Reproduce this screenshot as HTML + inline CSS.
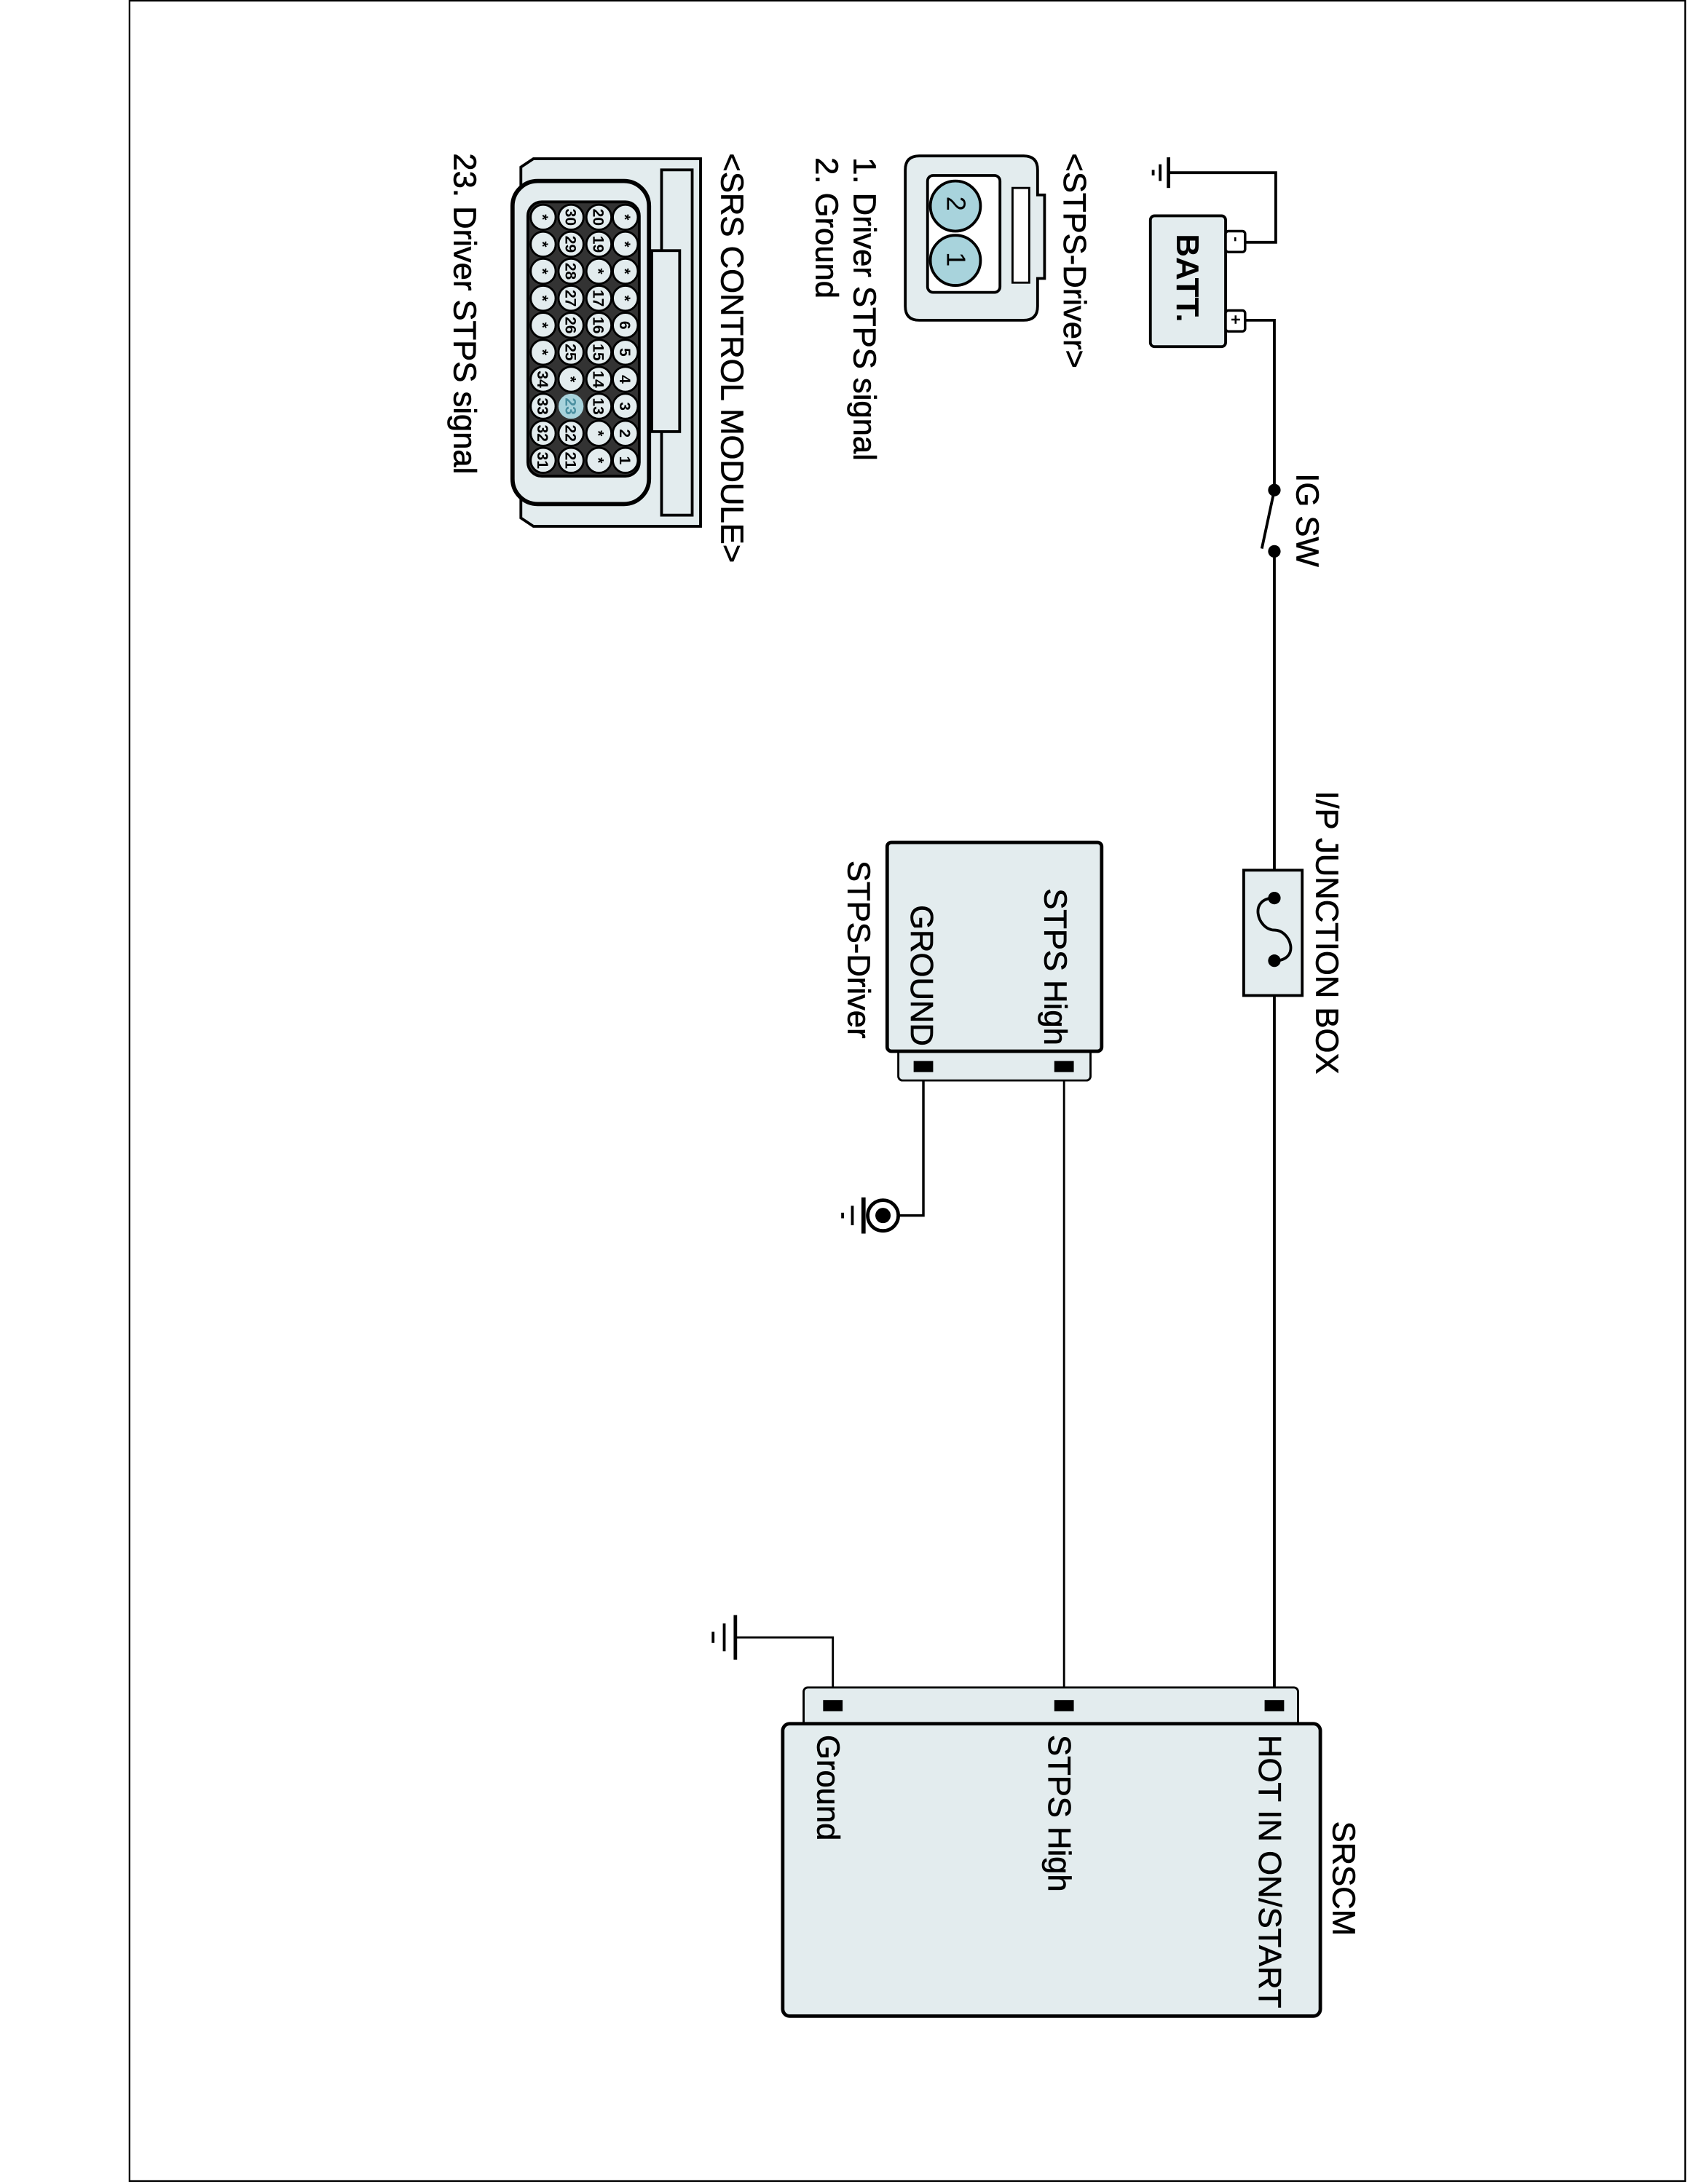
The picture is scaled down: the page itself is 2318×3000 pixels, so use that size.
<!DOCTYPE html>
<html><head><meta charset="utf-8"><style>html,body{margin:0;padding:0;background:#fff}svg{display:block}.t{font-size:22.8px;stroke:#000;stroke-width:0.35}</style></head>
<body>
<svg width="2318" height="3000" viewBox="0 0 1212 1568.6" preserveAspectRatio="none" xmlns="http://www.w3.org/2000/svg" font-family="Liberation Sans, sans-serif">
<rect x="93" y="0.5" width="1117" height="1566" fill="none" stroke="#000" stroke-width="1.2"/>
<g stroke="#000" fill="none" stroke-width="2">
<polyline points="894,174 916,174 916,124 839,124"/>
<line x1="839" y1="113" x2="839" y2="135" stroke-width="2.5"/>
<line x1="833" y1="118" x2="833" y2="130"/>
<line x1="828" y1="122" x2="828" y2="126"/>
<polyline points="894,230 915,230 915,352"/>
<line x1="915" y1="352" x2="906" y2="394"/>
<line x1="915" y1="396" x2="915" y2="645"/>
<line x1="915" y1="690" x2="915" y2="1225"/>
<line x1="764" y1="766" x2="764" y2="1225" stroke-width="1.5"/>
<polyline points="663,766 663,873 645,873" stroke-width="1.8"/>
<polyline points="598,1225 598,1176 528,1176" stroke-width="1.5"/>
<line x1="528" y1="1160" x2="528" y2="1192" stroke-width="2.5"/>
<line x1="520" y1="1166" x2="520" y2="1186"/>
<line x1="512" y1="1172" x2="512" y2="1180"/>
</g>
<rect x="826" y="155" width="54" height="94" rx="3" fill="#e3ecee" stroke="#000" stroke-width="2"/>
<rect x="880" y="166" width="14" height="15" rx="2" fill="#fff" stroke="#000" stroke-width="1.8"/>
<rect x="880" y="223" width="14" height="15" rx="2" fill="#fff" stroke="#000" stroke-width="1.8"/>
<text transform="translate(884,170) rotate(90)" font-size="11" font-weight="bold">-</text>
<text transform="translate(883,226) rotate(90)" font-size="12" font-weight="bold">+</text>
<text transform="translate(845,168) rotate(90)" font-size="23" font-weight="bold">BATT.</text>
<circle cx="915" cy="352" r="4.5"/><circle cx="915" cy="396" r="4.5"/>
<text class="t" transform="translate(931,340) rotate(90)">IG SW</text>
<rect x="893" y="625" width="42" height="90" fill="#e3ecee" stroke="#000" stroke-width="2"/>
<path d="M915,645 C896,645 903,668 915,668 C927,668 934,690 915,690" fill="none" stroke="#000" stroke-width="2"/>
<circle cx="915" cy="645" r="4.5"/><circle cx="915" cy="690" r="4.5"/>
<text class="t" transform="translate(945,568) rotate(90)">I/P JUNCTION BOX</text>
<rect x="645" y="752" width="138" height="24" rx="3" fill="#e3ecee" stroke="#000" stroke-width="1.5"/>
<rect x="637" y="605" width="154" height="150" rx="3" fill="#e3ecee" stroke="#000" stroke-width="2.5"/>
<rect x="757" y="762" width="14" height="8" fill="#000"/>
<rect x="656" y="762" width="14" height="8" fill="#000"/>
<text class="t" transform="translate(750,638) rotate(90)">STPS High</text>
<text class="t" transform="translate(654,650) rotate(90)">GROUND</text>
<text class="t" transform="translate(609,618) rotate(90)">STPS-Driver</text>
<circle cx="634" cy="873" r="11" fill="#fff" stroke="#000" stroke-width="2.5"/>
<circle cx="634" cy="873" r="5.5" fill="#000"/>
<line x1="620" y1="860" x2="620" y2="886" stroke="#000" stroke-width="3"/>
<line x1="612" y1="866" x2="612" y2="880" stroke="#000" stroke-width="2"/>
<line x1="605" y1="871" x2="605" y2="875" stroke="#000" stroke-width="2"/>
<rect x="577" y="1212" width="355" height="30" rx="3" fill="#e3ecee" stroke="#000" stroke-width="1.5"/>
<rect x="562" y="1238" width="386" height="210" rx="5" fill="#e3ecee" stroke="#000" stroke-width="2.5"/>
<rect x="908" y="1221" width="14" height="8" fill="#000"/>
<rect x="757" y="1221" width="14" height="8" fill="#000"/>
<rect x="591" y="1221" width="14" height="8" fill="#000"/>
<text class="t" transform="translate(957,1308) rotate(90)">SRSCM</text>
<text class="t" transform="translate(904,1246) rotate(90)">HOT IN ON/START</text>
<text class="t" transform="translate(753,1246) rotate(90)">STPS High</text>
<text class="t" transform="translate(587,1246) rotate(90)">Ground</text>
<text class="t" transform="translate(764,110) rotate(90)">&lt;STPS-Driver&gt;</text>
<path d="M660,112 L735,112 Q745,112 745,122 L745,140 L750,140 L750,200 L745,200 L745,220 Q745,230 735,230 L660,230 Q650,230 650,220 L650,122 Q650,112 660,112 Z" fill="#e3ecee" stroke="#000" stroke-width="2"/>
<rect x="666" y="126" width="52" height="84" rx="4" fill="#fff" stroke="#000" stroke-width="2"/>
<rect x="727" y="135" width="12" height="68" fill="#fff" stroke="#000" stroke-width="1.5"/>
<circle cx="686" cy="148" r="18" fill="#a8d3dc" stroke="#000" stroke-width="2"/>
<circle cx="686" cy="187" r="18" fill="#a8d3dc" stroke="#000" stroke-width="2"/>
<text transform="translate(680,141) rotate(90)" font-size="19">2</text>
<text transform="translate(680,181) rotate(90)" font-size="19">1</text>
<text class="t" transform="translate(613,113) rotate(90)">1. Driver STPS signal</text>
<text class="t" transform="translate(586,113) rotate(90)">2. Ground</text>
<text class="t" transform="translate(518,110) rotate(90)">&lt;SRS CONTROL MODULE&gt;</text>
<path d="M383,114 L503,114 L503,378 L383,378 L374,372 L374,120 Z" fill="#e3ecee" stroke="#000" stroke-width="2"/>
<rect x="475" y="122" width="22" height="248" fill="#e3ecee" stroke="#000" stroke-width="2"/>
<rect x="468" y="180" width="20" height="130" fill="#e3ecee" stroke="#000" stroke-width="2"/>
<rect x="368" y="130" width="98" height="232" rx="18" fill="#e3ecee" stroke="#000" stroke-width="3"/>
<rect x="379" y="145" width="80" height="197" rx="10" fill="#333" stroke="#000" stroke-width="2"/>
<g stroke="#000" stroke-width="1.5" fill="#e3ecee">
<circle cx="390" cy="156" r="9"/><circle cx="410" cy="156" r="9"/><circle cx="430" cy="156" r="9"/><circle cx="449" cy="156" r="9"/>
<circle cx="390" cy="175.4" r="9"/><circle cx="410" cy="175.4" r="9"/><circle cx="430" cy="175.4" r="9"/><circle cx="449" cy="175.4" r="9"/>
<circle cx="390" cy="194.8" r="9"/><circle cx="410" cy="194.8" r="9"/><circle cx="430" cy="194.8" r="9"/><circle cx="449" cy="194.8" r="9"/>
<circle cx="390" cy="214.2" r="9"/><circle cx="410" cy="214.2" r="9"/><circle cx="430" cy="214.2" r="9"/><circle cx="449" cy="214.2" r="9"/>
<circle cx="390" cy="233.6" r="9"/><circle cx="410" cy="233.6" r="9"/><circle cx="430" cy="233.6" r="9"/><circle cx="449" cy="233.6" r="9"/>
<circle cx="390" cy="253" r="9"/><circle cx="410" cy="253" r="9"/><circle cx="430" cy="253" r="9"/><circle cx="449" cy="253" r="9"/>
<circle cx="390" cy="272.4" r="9"/><circle cx="410" cy="272.4" r="9"/><circle cx="430" cy="272.4" r="9"/><circle cx="449" cy="272.4" r="9"/>
<circle cx="390" cy="291.8" r="9"/><circle cx="410" cy="291.8" r="9" fill="#a8d3dc" stroke="none"/><circle cx="430" cy="291.8" r="9"/><circle cx="449" cy="291.8" r="9"/>
<circle cx="390" cy="311.2" r="9"/><circle cx="410" cy="311.2" r="9"/><circle cx="430" cy="311.2" r="9"/><circle cx="449" cy="311.2" r="9"/>
<circle cx="390" cy="330.6" r="9"/><circle cx="410" cy="330.6" r="9"/><circle cx="430" cy="330.6" r="9"/><circle cx="449" cy="330.6" r="9"/>
</g>
<g font-size="11" font-weight="bold" text-anchor="middle">
<text transform="translate(386,156) rotate(90)">*</text><text transform="translate(406,156) rotate(90)">30</text><text transform="translate(426,156) rotate(90)">20</text><text transform="translate(445,156) rotate(90)">*</text>
<text transform="translate(386,175.4) rotate(90)">*</text><text transform="translate(406,175.4) rotate(90)">29</text><text transform="translate(426,175.4) rotate(90)">19</text><text transform="translate(445,175.4) rotate(90)">*</text>
<text transform="translate(386,194.8) rotate(90)">*</text><text transform="translate(406,194.8) rotate(90)">28</text><text transform="translate(426,194.8) rotate(90)">*</text><text transform="translate(445,194.8) rotate(90)">*</text>
<text transform="translate(386,214.2) rotate(90)">*</text><text transform="translate(406,214.2) rotate(90)">27</text><text transform="translate(426,214.2) rotate(90)">17</text><text transform="translate(445,214.2) rotate(90)">*</text>
<text transform="translate(386,233.6) rotate(90)">*</text><text transform="translate(406,233.6) rotate(90)">26</text><text transform="translate(426,233.6) rotate(90)">16</text><text transform="translate(445,233.6) rotate(90)">6</text>
<text transform="translate(386,253) rotate(90)">*</text><text transform="translate(406,253) rotate(90)">25</text><text transform="translate(426,253) rotate(90)">15</text><text transform="translate(445,253) rotate(90)">5</text>
<text transform="translate(386,272.4) rotate(90)">34</text><text transform="translate(406,272.4) rotate(90)">*</text><text transform="translate(426,272.4) rotate(90)">14</text><text transform="translate(445,272.4) rotate(90)">4</text>
<text transform="translate(386,291.8) rotate(90)">33</text><text transform="translate(406,291.8) rotate(90)" fill="#4a8fa0">23</text><text transform="translate(426,291.8) rotate(90)">13</text><text transform="translate(445,291.8) rotate(90)">3</text>
<text transform="translate(386,311.2) rotate(90)">32</text><text transform="translate(406,311.2) rotate(90)">22</text><text transform="translate(426,311.2) rotate(90)">*</text><text transform="translate(445,311.2) rotate(90)">2</text>
<text transform="translate(386,330.6) rotate(90)">31</text><text transform="translate(406,330.6) rotate(90)">21</text><text transform="translate(426,330.6) rotate(90)">*</text><text transform="translate(445,330.6) rotate(90)">1</text>
</g>
<text class="t" transform="translate(326,110) rotate(90)">23. Driver STPS signal</text>
</svg>
</body></html>
